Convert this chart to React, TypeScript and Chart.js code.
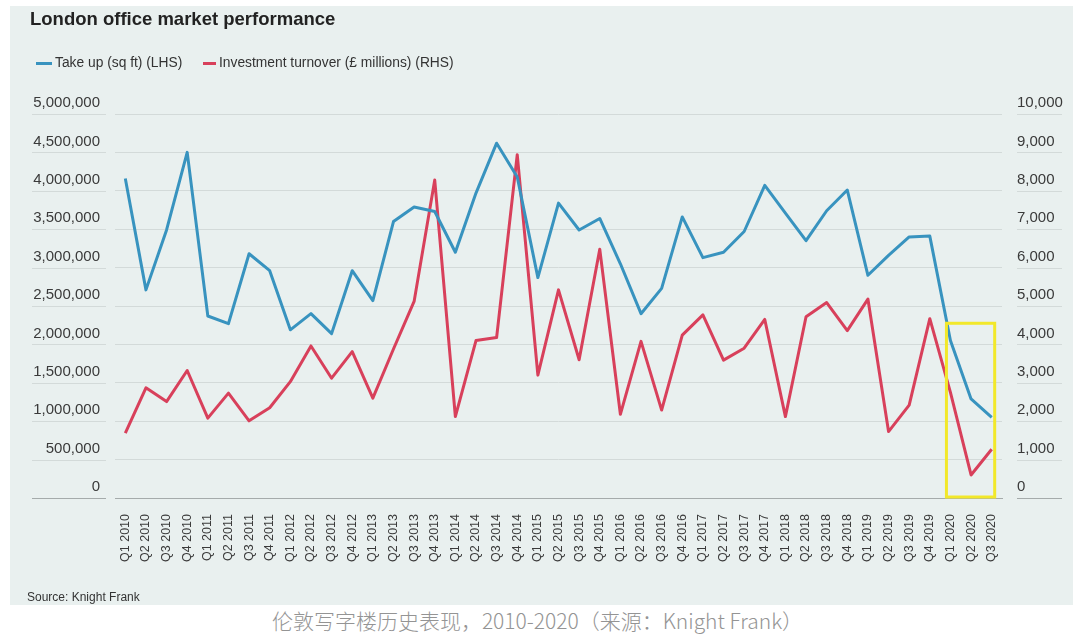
import React, { useEffect, useRef } from "react";
import { Chart, registerables } from "chart.js";

Chart.register(...registerables);

const quarters: string[] = [
  "Q1 2010", "Q2 2010", "Q3 2010", "Q4 2010",
  "Q1 2011", "Q2 2011", "Q3 2011", "Q4 2011",
  "Q1 2012", "Q2 2012", "Q3 2012", "Q4 2012",
  "Q1 2013", "Q2 2013", "Q3 2013", "Q4 2013",
  "Q1 2014", "Q2 2014", "Q3 2014", "Q4 2014",
  "Q1 2015", "Q2 2015", "Q3 2015", "Q4 2015",
  "Q1 2016", "Q2 2016", "Q3 2016", "Q4 2016",
  "Q1 2017", "Q2 2017", "Q3 2017", "Q4 2017",
  "Q1 2018", "Q2 2018", "Q3 2018", "Q4 2018",
  "Q1 2019", "Q2 2019", "Q3 2019", "Q4 2019",
  "Q1 2020", "Q2 2020", "Q3 2020",
];

// Take up (sq ft), left-hand scale
const takeUp: number[] = [
  4160000, 2710000, 3490000, 4500000,
  2370000, 2270000, 3180000, 2960000,
  2190000, 2400000, 2140000, 2960000,
  2570000, 3600000, 3790000, 3730000,
  3200000, 3970000, 4620000, 4180000,
  2870000, 3840000, 3490000, 3640000,
  3050000, 2400000, 2730000, 3660000,
  3130000, 3200000, 3470000, 4070000,
  3710000, 3350000, 3740000, 4010000,
  2900000, 3160000, 3400000, 3410000,
  2050000, 1290000, 1050000,
];

// Investment turnover (£ millions), right-hand scale
const investment: number[] = [
  1690, 2870, 2510, 3320,
  2080, 2730, 2010, 2350,
  3030, 3960, 3120, 3810,
  2600, 3880, 5120, 8280,
  2120, 4100, 4180, 8940,
  3200, 5420, 3600, 6480,
  2180, 4080, 2290, 4240,
  4770, 3590, 3900, 4650,
  2120, 4720, 5090, 4360,
  5180, 1730, 2420, 4670,
  2750, 600, 1270,
];

const leftTicks = { min: 0, max: 5000000, step: 500000 };
const rightTicks = { min: 0, max: 10000, step: 1000 };

// Highlight box: from first to last highlighted quarter index, up to a RHS value
const highlightFrom = 40;
const highlightTo = 42;
const highlightTop = 4550;

const BLUE = "#3893bf";
const RED = "#d8405b";
const GRID = "#d3dad9";
const GRID_ZERO = "#a5abab";
const TICK_COLOR = "#3a3a3a";
const FONT = "'Liberation Sans', Arial, Helvetica, sans-serif";

export default function App() {
  const canvasRef = useRef<HTMLCanvasElement | null>(null);

  useEffect(() => {
    const canvas = canvasRef.current;
    if (!canvas) return;

    const segPlugin = {
      id: "labelSegments",
      beforeDatasetsDraw(chart: any) {
        const ctx = chart.ctx;
        const yl = chart.scales.y;
        const yr = chart.scales.y1;
        ctx.save();
        ctx.lineWidth = 1;
        yl.ticks.forEach((t: any) => {
          const py = Math.round(yl.getPixelForValue(t.value)) + 0.5;
          ctx.strokeStyle = t.value === 0 ? GRID_ZERO : GRID;
          ctx.beginPath();
          ctx.moveTo(22, py);
          ctx.lineTo(96, py);
          ctx.stroke();
        });
        yr.ticks.forEach((t: any) => {
          const py = Math.round(yr.getPixelForValue(t.value)) + 0.5;
          ctx.strokeStyle = t.value === 0 ? GRID_ZERO : GRID;
          ctx.beginPath();
          ctx.moveTo(1007, py);
          ctx.lineTo(1052, py);
          ctx.stroke();
        });
        ctx.restore();
      },
    };

    const boxPlugin = {
      id: "highlightBox",
      afterDatasetsDraw(chart: any) {
        const ctx = chart.ctx;
        const x = chart.scales.x;
        const yr = chart.scales.y1;
        const x1 = x.getPixelForValue(highlightFrom) - 4;
        const x2 = x.getPixelForValue(highlightTo) + 3;
        const y1 = yr.getPixelForValue(highlightTop);
        const y2 = yr.getPixelForValue(0) - 1;
        ctx.save();
        ctx.strokeStyle = "#f2e82a";
        ctx.lineWidth = 3;
        ctx.strokeRect(x1, y1, x2 - x1, y2 - y1);
        ctx.restore();
      },
    };

    const chart = new Chart(canvas, {
      type: "line",
      data: {
        labels: quarters,
        datasets: [
          {
            label: "Take up (sq ft) (LHS)",
            data: takeUp,
            borderColor: BLUE,
            backgroundColor: BLUE,
            borderWidth: 3,
            pointRadius: 0,
            tension: 0,
            yAxisID: "y",
            borderJoinStyle: "round",
          },
          {
            label: "Investment turnover (£ millions) (RHS)",
            data: investment,
            borderColor: RED,
            backgroundColor: RED,
            borderWidth: 3,
            pointRadius: 0,
            tension: 0,
            yAxisID: "y1",
            borderJoinStyle: "round",
          },
        ],
      },
      options: {
        responsive: false,
        animation: false,
        events: [],
        layout: { padding: { top: 108, left: 0, right: 0, bottom: 0 } },
        plugins: {
          legend: { display: false },
          title: { display: false },
          tooltip: { enabled: false },
        },
        scales: {
          x: {
            offset: true,
            grid: { display: false, drawTicks: false },
            border: { display: true, color: GRID_ZERO, width: 1 },
            ticks: {
              autoSkip: false,
              minRotation: 90,
              maxRotation: 90,
              padding: 16,
              color: TICK_COLOR,
              font: { family: FONT, size: 12.5 },
            },
            afterFit(scale: any) {
              scale.height = 599 - 492;
            },
          },
          y: {
            position: "left",
            min: leftTicks.min,
            max: leftTicks.max,
            grid: {
              drawTicks: false,
              color: (c: any) => (c.tick && c.tick.value === 0 ? GRID_ZERO : GRID),
            },
            border: { display: false },
            ticks: {
              stepSize: leftTicks.step,
              padding: 15,
              labelOffset: -11,
              color: TICK_COLOR,
              font: { family: FONT, size: 15 },
              callback: (v: any) => Number(v).toLocaleString("en-US"),
            },
            afterFit(scale: any) {
              scale.width = 105;
            },
          },
          y1: {
            position: "right",
            min: rightTicks.min,
            max: rightTicks.max,
            grid: { drawOnChartArea: false, drawTicks: false },
            border: { display: false },
            ticks: {
              stepSize: rightTicks.step,
              padding: 15,
              labelOffset: -11,
              color: TICK_COLOR,
              font: { family: FONT, size: 15 },
              callback: (v: any) => Number(v).toLocaleString("en-US"),
            },
            afterFit(scale: any) {
              scale.width = 1063 - 992;
            },
          },
        },
      },
      plugins: [segPlugin, boxPlugin],
    } as any);

    return () => chart.destroy();
  }, []);

  const legendText: React.CSSProperties = {
    position: "absolute",
    top: 54,
    fontFamily: FONT,
    fontSize: 13.8,
    color: "#333",
    lineHeight: "18px",
    whiteSpace: "nowrap",
  };

  return (
    <div
      style={{
        position: "absolute",
        left: 0,
        top: 0,
        width: 1080,
        height: 635,
        background: "#ffffff",
        overflow: "hidden",
      }}
    >
      <div
        style={{
          position: "absolute",
          left: 10,
          top: 6,
          width: 1063,
          height: 599,
          background: "#e9f0ef",
        }}
      >
        <canvas
          ref={canvasRef}
          width={1063}
          height={599}
          style={{ position: "absolute", left: 0, top: 0, width: 1063, height: 599 }}
        />
      </div>
      <div
        style={{
          position: "absolute",
          left: 30,
          top: 8,
          fontFamily: FONT,
          fontWeight: "bold",
          fontSize: 18.5,
          color: "#222",
          lineHeight: "22px",
          whiteSpace: "nowrap",
        }}
      >
        London office market performance
      </div>
      <div style={{ position: "absolute", left: 36, top: 62, width: 16, height: 3, background: BLUE }} />
      <div style={{ ...legendText, left: 55 }}>Take up (sq ft) (LHS)</div>
      <div style={{ position: "absolute", left: 203, top: 62, width: 13, height: 3, background: RED }} />
      <div style={{ ...legendText, left: 219 }}>Investment turnover (£ millions) (RHS)</div>
      <div
        style={{
          position: "absolute",
          left: 27,
          top: 589,
          fontFamily: FONT,
          fontSize: 12,
          color: "#333",
          lineHeight: "16px",
          whiteSpace: "nowrap",
        }}
      >
        Source: Knight Frank
      </div>
      <div
        style={{
          position: "absolute",
          left: 0,
          width: 1075,
          top: 607,
          textAlign: "center",
          fontFamily: "'Noto Sans CJK SC', 'Noto Sans', sans-serif",
          fontSize: 21,
          fontWeight: 300,
          color: "#949494",
          lineHeight: "27px",
          whiteSpace: "nowrap",
        }}
      >
        伦敦写字楼历史表现，2010-2020（来源：Knight Frank）
      </div>
    </div>
  );
}
